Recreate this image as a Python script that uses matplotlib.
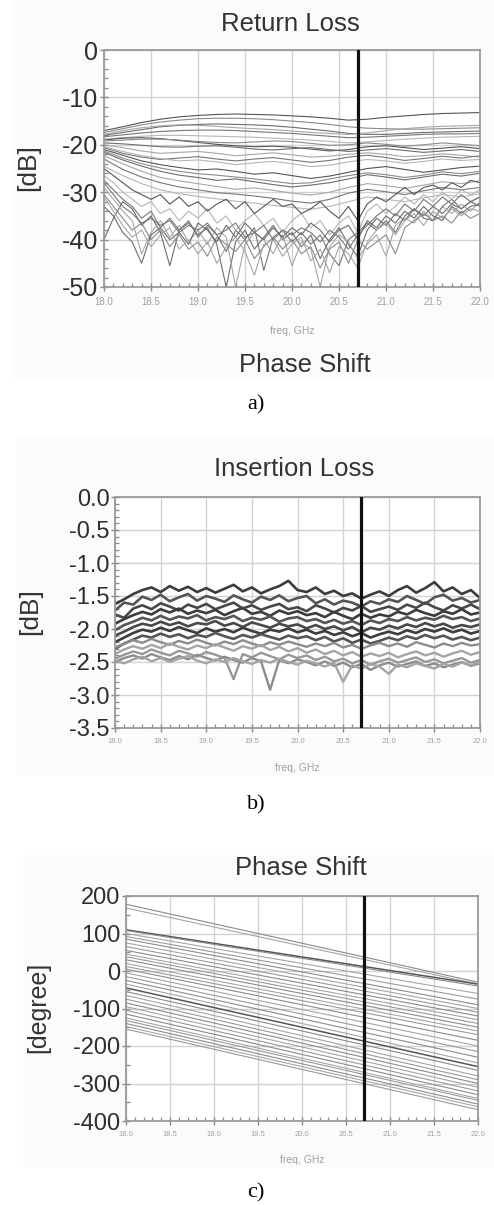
import numpy as np
import matplotlib
matplotlib.use('Agg')
import matplotlib.pyplot as plt
from matplotlib.ticker import MultipleLocator, FormatStrFormatter
from matplotlib.patches import Rectangle

plt.rcParams['font.family'] = ['Liberation Sans', 'DejaVu Sans']
plt.rcParams['axes.unicode_minus'] = False

# ---------------- data ----------------
MARKER_F = 20.7

# Return loss, smooth upper traces on a 0.2 GHz grid
rl_freq_coarse = [18.0, 18.2, 18.4, 18.6, 18.8, 19.0, 19.2, 19.4, 19.6, 19.8, 20.0,
                  20.2, 20.4, 20.6, 20.8, 21.0, 21.2, 21.4, 21.6, 21.8, 22.0]
rl_upper = [
    [-17.0, -16.2, -15.3, -14.6, -14.1, -13.8, -13.6, -13.5, -13.6, -13.7, -13.9, -14.1, -14.4, -14.8, -14.6, -14.2, -13.9, -13.6, -13.4, -13.3, -13.2],
    [-17.4, -16.6, -15.8, -15.2, -14.8, -14.5, -14.4, -14.4, -14.5, -14.7, -15.0, -15.3, -15.7, -16.2, -16.5, -16.6, -16.7, -16.7, -16.6, -16.5, -16.4],
    [-18.0, -17.4, -16.8, -16.2, -15.9, -15.7, -15.6, -15.7, -15.8, -16.0, -16.3, -16.7, -17.1, -17.6, -17.8, -17.8, -17.6, -17.4, -17.3, -17.2, -17.1],
    [-17.8, -17.0, -16.4, -16.0, -15.8, -15.9, -16.1, -16.4, -16.6, -16.8, -17.1, -17.4, -17.6, -17.8, -17.5, -17.0, -16.6, -16.3, -16.1, -16.0, -15.9],
    [-18.3, -17.9, -17.5, -17.2, -17.0, -16.9, -16.9, -17.0, -17.2, -17.4, -17.6, -17.9, -18.2, -18.5, -18.4, -18.2, -18.0, -17.8, -17.7, -17.7, -17.6],
    [-18.8, -18.5, -18.2, -18.0, -18.0, -18.1, -18.2, -18.3, -18.4, -18.6, -18.8, -19.0, -19.3, -19.6, -19.4, -19.1, -18.8, -18.6, -18.4, -18.3, -18.2],
    [-19.0, -18.6, -18.5, -18.7, -19.1, -19.5, -19.9, -20.2, -20.4, -20.3, -20.5, -20.9, -21.3, -21.0, -20.4, -20.2, -20.6, -21.0, -20.7, -20.4, -20.8],
    [-19.2, -19.0, -18.8, -18.8, -19.0, -19.3, -19.5, -19.6, -19.4, -19.2, -19.3, -19.7, -20.1, -20.0, -19.6, -19.9, -20.3, -20.0, -19.6, -19.9, -20.2],
    [-19.6, -19.8, -20.1, -20.4, -20.5, -20.3, -20.2, -20.5, -20.9, -21.1, -20.8, -20.6, -21.0, -21.4, -21.1, -20.8, -21.2, -21.6, -21.3, -21.0, -21.4],
    [-20.0, -20.6, -21.3, -21.8, -21.6, -21.4, -21.8, -22.3, -22.0, -21.7, -22.1, -22.6, -22.4, -22.0, -21.7, -22.0, -22.5, -22.3, -21.9, -22.2, -22.6],
    [-20.6, -21.8, -22.6, -23.1, -22.8, -22.5, -23.0, -23.4, -23.0, -22.7, -23.2, -23.7, -23.3, -22.6, -22.2, -22.7, -23.3, -22.9, -22.4, -22.8, -22.3],
    [-20.4, -21.4, -22.3, -22.9, -23.4, -23.2, -23.6, -24.2, -23.8, -23.5, -24.0, -24.6, -24.3, -23.6, -23.1, -23.4, -23.9, -23.5, -23.0, -23.3, -23.1],
    [-21.0, -22.2, -23.4, -24.2, -24.8, -25.3, -25.1, -25.6, -26.2, -25.9, -26.5, -27.1, -26.6, -25.8, -25.0, -24.6, -25.2, -25.8, -25.3, -24.8, -24.5],
    [-21.3, -22.8, -24.0, -24.9, -25.6, -26.1, -26.4, -26.8, -27.2, -27.7, -28.2, -28.0, -27.2, -26.5, -25.9, -26.3, -26.9, -26.4, -25.7, -26.1, -25.6],
    [-21.6, -23.2, -24.5, -25.6, -26.4, -26.9, -27.5, -27.2, -27.8, -28.4, -28.9, -28.5, -28.0, -27.2, -26.3, -26.8, -27.4, -26.8, -26.2, -26.6, -26.0],
    [-22.3, -24.0, -25.6, -26.9, -27.6, -28.2, -28.8, -29.4, -29.1, -29.6, -30.2, -30.6, -30.0, -29.0, -28.2, -28.6, -29.2, -28.5, -27.8, -28.2, -27.6],
    [-23.0, -25.2, -26.8, -28.0, -28.9, -29.5, -30.1, -30.4, -30.8, -31.3, -31.9, -32.3, -31.5, -30.2, -29.4, -29.9, -30.5, -29.7, -29.0, -29.5, -29.0],
    [-24.5, -26.5, -28.2, -29.5, -30.3, -30.9, -31.4, -31.9, -32.3, -32.8, -33.2, -33.6, -33.0, -32.0, -31.0, -31.5, -32.0, -31.2, -30.5, -31.0, -30.3],
]

# Return loss, noisy lower traces on a 0.1 GHz grid
rl_freq_fine = [18.0, 18.1, 18.2, 18.3, 18.4, 18.5, 18.6, 18.7, 18.8, 18.9,
                19.0, 19.1, 19.2, 19.3, 19.4, 19.5, 19.6, 19.7, 19.8, 19.9,
                20.0, 20.1, 20.2, 20.3, 20.4, 20.5, 20.6, 20.7, 20.8, 20.9,
                21.0, 21.1, 21.2, 21.3, 21.4, 21.5, 21.6, 21.7, 21.8, 21.9, 22.0]
rl_lower = [
    [-40.0, -35.5, -32.0, -33.5, -37.0, -35.0, -38.5, -45.5, -38.0, -36.5,
     -39.0, -37.5, -41.0, -50.0, -40.5, -38.0, -42.0, -39.5, -37.0, -40.0,
     -38.5, -41.5, -39.0, -44.0, -40.0, -37.5, -41.0, -43.5, -38.0, -35.5,
     -37.0, -34.5, -36.0, -33.5, -35.0, -33.0, -34.5, -32.5, -33.5, -32.0, -33.0],
    [-29.0, -31.5, -34.0, -36.0, -43.0, -38.5, -36.0, -39.5, -37.0, -40.5,
     -38.0, -41.0, -37.5, -39.5, -50.0, -41.0, -38.5, -40.0, -43.0, -39.0,
     -45.5, -40.5, -42.0, -50.0, -41.5, -39.0, -40.5, -44.0, -41.0, -39.0,
     -43.5, -37.0, -35.5, -36.5, -34.0, -36.0, -33.0, -34.5, -32.5, -34.0, -32.0],
    [-27.5, -29.5, -31.5, -33.0, -35.5, -34.0, -37.5, -35.5, -38.0, -36.0,
     -39.5, -37.0, -39.0, -42.5, -38.0, -40.0, -37.5, -46.5, -39.5, -38.0,
     -40.5, -38.5, -41.0, -39.0, -43.0, -45.5, -40.0, -38.5, -36.5, -38.0,
     -36.0, -38.5, -35.0, -33.5, -35.5, -36.0, -33.0, -31.5, -33.5, -32.0, -31.0],
    [-26.5, -28.0, -30.0, -31.5, -33.0, -32.0, -34.5, -33.5, -36.0, -34.0,
     -35.5, -33.5, -36.5, -35.0, -38.0, -36.0, -34.5, -37.0, -35.5, -38.5,
     -36.0, -34.5, -37.5, -36.0, -39.0, -36.5, -35.0, -38.5, -34.0, -32.5,
     -34.5, -33.0, -31.0, -32.5, -30.5, -32.0, -30.0, -31.5, -29.5, -30.5, -29.5],
    [-25.0, -26.5, -28.0, -29.5, -30.5, -31.5, -30.5, -32.5, -31.0, -33.0,
     -32.0, -34.0, -32.5, -31.5, -33.5, -32.0, -34.5, -33.0, -31.5, -33.0,
     -32.5, -34.5, -33.5, -32.0, -34.0, -35.5, -33.0, -36.0, -32.5, -31.0,
     -32.0, -30.5, -29.0, -30.5, -29.0, -28.5, -29.5, -28.0, -29.0, -27.5, -28.0],
    [-30.5, -33.0, -35.5, -38.0, -36.5, -40.0, -38.0, -41.5, -39.0, -42.0,
     -40.5, -43.5, -39.5, -41.0, -42.5, -40.0, -44.0, -41.5, -39.5, -42.0,
     -40.0, -43.0, -41.5, -46.0, -42.0, -40.5, -45.0, -40.0, -42.0, -40.5,
     -39.0, -43.0, -37.5, -36.0, -34.5, -36.0, -35.0, -36.5, -34.0, -35.5, -34.5],
    [-33.0, -35.0, -38.5, -40.5, -45.0, -39.0, -37.5, -40.0, -38.5, -41.0,
     -36.5, -38.0, -40.5, -37.0, -39.5, -36.5, -38.5, -40.0, -37.5, -39.5,
     -37.5, -39.0, -36.5, -38.0, -40.5, -38.0, -37.0, -40.0, -36.0, -37.5,
     -35.0, -36.5, -34.0, -35.5, -33.0, -35.0, -36.0, -33.0, -34.5, -33.0, -32.5],
    [-31.0, -34.0, -37.0, -39.5, -38.0, -41.5, -39.0, -37.5, -42.0, -40.0,
     -43.0, -40.5, -45.0, -41.5, -39.5, -42.5, -47.5, -41.0, -40.0, -43.5,
     -41.0, -39.5, -44.5, -42.0, -47.0, -41.5, -43.0, -46.0, -40.5, -38.0,
     -36.5, -39.0, -36.0, -34.5, -37.0, -34.0, -35.5, -33.5, -35.0, -33.5, -34.0],
    [-28.0, -30.5, -33.0, -34.5, -36.5, -35.5, -37.0, -36.0, -38.5, -37.0,
     -38.0, -36.5, -39.0, -38.0, -36.5, -39.5, -38.5, -37.0, -40.0, -38.0,
     -39.0, -37.5, -38.5, -40.5, -38.0, -39.5, -42.0, -39.0, -37.0, -35.0,
     -33.5, -35.0, -32.5, -34.0, -31.5, -33.0, -31.0, -32.5, -30.5, -32.0, -31.0],
]

# Insertion loss on a 0.1 GHz grid
il_freq = rl_freq_fine
il_dark = [
    [-1.62, -1.55, -1.47, -1.41, -1.37, -1.44, -1.35, -1.42, -1.36, -1.44, -1.38, -1.45, -1.39, -1.33, -1.43, -1.37, -1.46, -1.40, -1.35, -1.27,
     -1.41, -1.44, -1.37, -1.47, -1.42, -1.50, -1.46, -1.54, -1.48, -1.43, -1.50, -1.41, -1.35, -1.45, -1.38, -1.29, -1.43, -1.37, -1.47, -1.41, -1.53],
    [-1.72, -1.60, -1.63, -1.51, -1.56, -1.48, -1.58, -1.52, -1.47, -1.57, -1.50, -1.54, -1.59, -1.49, -1.55, -1.60, -1.51, -1.56, -1.49, -1.58,
     -1.53, -1.50, -1.61, -1.55, -1.63, -1.57, -1.60, -1.66, -1.58, -1.62, -1.55, -1.59, -1.50, -1.56, -1.62, -1.52, -1.48, -1.57, -1.53, -1.60, -1.56],
    [-1.78, -1.83, -1.69, -1.64, -1.70, -1.61, -1.66, -1.72, -1.63, -1.68, -1.62, -1.70, -1.65, -1.60, -1.69, -1.64, -1.71, -1.66, -1.62, -1.70,
     -1.67, -1.73, -1.64, -1.69, -1.75, -1.68, -1.72, -1.65, -1.74, -1.70, -1.66, -1.71, -1.63, -1.68, -1.60, -1.67, -1.72, -1.64, -1.69, -1.63, -1.70],
    [-1.92, -1.85, -1.79, -1.74, -1.78, -1.70, -1.75, -1.69, -1.77, -1.72, -1.76, -1.71, -1.79, -1.73, -1.68, -1.77, -1.74, -1.80, -1.72, -1.77,
     -1.73, -1.79, -1.76, -1.82, -1.74, -1.80, -1.85, -1.77, -1.83, -1.78, -1.81, -1.74, -1.78, -1.71, -1.76, -1.80, -1.73, -1.77, -1.70, -1.78, -1.75],
    [-2.02, -1.94, -1.89, -1.83, -1.87, -1.80, -1.86, -1.81, -1.84, -1.79, -1.87, -1.82, -1.85, -1.80, -1.88, -1.83, -1.86, -1.81, -1.89, -1.84,
     -1.82, -1.88, -1.85, -1.91, -1.86, -1.92, -1.88, -1.94, -1.87, -1.91, -1.85, -1.88, -1.82, -1.87, -1.83, -1.86, -1.80, -1.85, -1.82, -1.88, -1.84],
    [-2.10, -2.04, -1.97, -1.92, -1.95, -1.89, -1.94, -1.90, -1.96, -1.91, -1.93, -1.88, -1.95, -1.91, -1.97, -1.90, -1.94, -1.98, -1.92, -1.96,
     -1.93, -1.99, -1.94, -2.00, -1.96, -2.02, -1.97, -2.05, -1.98, -2.01, -1.95, -1.99, -1.93, -1.97, -1.91, -1.96, -1.92, -1.98, -1.94, -1.97, -1.93],
    [-2.20, -2.13, -2.06, -2.01, -2.04, -1.98, -2.03, -1.97, -2.02, -2.06, -1.99, -2.04, -2.00, -2.05, -1.98, -2.03, -2.07, -2.01, -2.04, -1.99,
     -2.05, -2.01, -2.07, -2.03, -2.09, -2.05, -2.11, -2.06, -2.13, -2.08, -2.04, -2.08, -2.02, -2.06, -2.00, -2.04, -1.99, -2.05, -2.01, -2.07, -2.03],
    [-2.30, -2.22, -2.16, -2.10, -2.13, -2.07, -2.12, -2.08, -2.14, -2.09, -2.12, -2.06, -2.11, -2.15, -2.09, -2.13, -2.08, -2.12, -2.16, -2.10,
     -2.14, -2.11, -2.17, -2.12, -2.19, -2.14, -2.21, -2.16, -2.22, -2.18, -2.13, -2.17, -2.11, -2.15, -2.09, -2.14, -2.10, -2.16, -2.12, -2.17, -2.13],
]
il_light = [
    [-2.28, -2.22, -2.17, -2.21, -2.15, -2.20, -2.24, -2.18, -2.22, -2.16, -2.21, -2.25, -2.19, -2.23, -2.17, -2.22, -2.26, -2.20, -2.24, -2.19,
     -2.23, -2.27, -2.22, -2.26, -2.21, -2.28, -2.24, -2.30, -2.25, -2.21, -2.26, -2.22, -2.27, -2.20, -2.24, -2.28, -2.22, -2.26, -2.21, -2.25, -2.23],
    [-2.38, -2.31, -2.26, -2.30, -2.24, -2.29, -2.22, -2.27, -2.31, -2.25, -2.29, -2.23, -2.28, -2.33, -2.26, -2.30, -2.24, -2.32, -2.27, -2.34,
     -2.29, -2.36, -2.31, -2.38, -2.33, -2.40, -2.35, -2.42, -2.37, -2.41, -2.36, -2.43, -2.38, -2.34, -2.40, -2.36, -2.42, -2.37, -2.33, -2.39, -2.35],
    [-2.45, -2.39, -2.34, -2.38, -2.31, -2.36, -2.40, -2.33, -2.37, -2.42, -2.35, -2.39, -2.44, -2.76, -2.38, -2.43, -2.36, -2.41, -2.46, -2.39,
     -2.44, -2.40, -2.47, -2.42, -2.49, -2.45, -2.52, -2.47, -2.54, -2.49, -2.45, -2.51, -2.47, -2.43, -2.50, -2.46, -2.52, -2.48, -2.44, -2.51, -2.47],
    [-2.50, -2.44, -2.40, -2.45, -2.38, -2.43, -2.47, -2.41, -2.46, -2.39, -2.44, -2.48, -2.42, -2.47, -2.51, -2.44, -2.49, -2.92, -2.47, -2.52,
     -2.46, -2.50, -2.55, -2.49, -2.56, -2.51, -2.58, -2.53, -2.62, -2.55, -2.51, -2.57, -2.53, -2.49, -2.56, -2.52, -2.58, -2.54, -2.50, -2.56, -2.52],
    [-2.48, -2.52, -2.46, -2.42, -2.49, -2.44, -2.50, -2.45, -2.41, -2.48, -2.52, -2.46, -2.50, -2.44, -2.49, -2.53, -2.47, -2.51, -2.45, -2.50,
     -2.54, -2.48, -2.52, -2.57, -2.51, -2.80, -2.55, -2.60, -2.53, -2.57, -2.68, -2.54, -2.58, -2.52, -2.56, -2.60, -2.53, -2.57, -2.51, -2.55, -2.50],
]

# Phase shift: straight lines, value at 18 GHz and at 22 GHz
ps_freq = [18.0, 22.0]
ps_start = [178, 168, 110, 108, 100, 92, 85, 75, 65, 55, 45, 38, 30, 20, 12, 5,
            -5, -15, -25, -35, -45, -55, -65, -75, -85, -95, -105, -115, -125,
            -132, -140, -148, -155]
ps_end = [-30, -35, -35, -40, -60, -75, -90, -100, -110, -120, -130, -140, -150,
          -160, -170, -185, -200, -215, -230, -245, -255, -265, -280, -290, -300,
          -310, -320, -330, -340, -345, -355, -362, -370]

# ---------------- figure ----------------
W, H = 494, 1205
fig = plt.figure(figsize=(W / 100, H / 100), dpi=100)
fig.patch.set_facecolor('white')

def px_box(x0, y0, x1, y1):
    return [x0 / W, 1 - y1 / H, (x1 - x0) / W, (y1 - y0) / H]

# faint screenshot backgrounds
for (x0, y0, x1, y1) in [(12, 0, 494, 379), (17, 437, 494, 775), (23, 855, 494, 1167)]:
    b = px_box(x0, y0, x1, y1)
    fig.patches.append(Rectangle((b[0], b[1]), b[2], b[3], transform=fig.transFigure,
                                 facecolor='#fbfbfb', edgecolor='none', zorder=-10))

rl_greys = ['#555555', '#8a8a8a', '#6c6c6c', '#a6a6a6', '#777777', '#b5b5b5']

def style_axes(ax, ytick_size, xtick_size, ymin_step):
    ax.set_xlim(18.0, 22.0)
    ax.xaxis.set_major_locator(MultipleLocator(0.5))
    ax.xaxis.set_minor_locator(MultipleLocator(0.1))
    ax.yaxis.set_minor_locator(MultipleLocator(ymin_step))
    ax.grid(True, which='major', color='#d2d2d2', lw=1.0)
    ax.set_axisbelow(True)
    for s in ax.spines.values():
        s.set_color('#9a9a9a')
        s.set_linewidth(1.3)
    ax.tick_params(which='major', direction='inout', length=6, width=1.0, color='#8a8a8a')
    ax.tick_params(which='minor', direction='in', length=3, width=0.9, color='#8a8a8a')
    ax.tick_params(axis='y', labelsize=ytick_size, labelcolor='#2e2e2e', pad=1)
    ax.tick_params(axis='x', labelsize=xtick_size, labelcolor='#a0a0a0', pad=4)
    ax.xaxis.set_major_formatter(FormatStrFormatter('%.1f'))
    ax.axvline(MARKER_F, color='#111111', lw=2.3, zorder=5)

# ---- a) Return Loss ----
ax1 = fig.add_axes(px_box(104, 50, 480, 287))
for i, tr in enumerate(rl_upper):
    ax1.plot(rl_freq_coarse, tr, color=rl_greys[i % len(rl_greys)], lw=0.8)
for i, tr in enumerate(rl_lower):
    ax1.plot(rl_freq_fine, tr, color=rl_greys[(i + 2) % len(rl_greys)], lw=0.8)
ax1.set_ylim(-50, 0)
ax1.set_yticks([0, -10, -20, -30, -40, -50])
style_axes(ax1, 18, 7, 2)

# ---- b) Insertion Loss ----
ax2 = fig.add_axes(px_box(115, 497, 480, 728))
for i, tr in enumerate(il_dark):
    ax2.plot(il_freq, tr, color=['#3c3c3c', '#555555', '#484848'][i % 3], lw=1.9)
for i, tr in enumerate(il_light):
    ax2.plot(il_freq, tr, color=['#8c8c8c', '#a4a4a4', '#979797'][i % 3], lw=1.7)
ax2.set_ylim(-3.5, 0.0)
ax2.set_yticks([0.0, -0.5, -1.0, -1.5, -2.0, -2.5, -3.0, -3.5])
ax2.yaxis.set_major_formatter(FormatStrFormatter('%.1f'))
style_axes(ax2, 17, 5.5, 0.1)

# ---- c) Phase Shift ----
ax3 = fig.add_axes(px_box(126, 896, 478, 1121))
for i, (s, e) in enumerate(zip(ps_start, ps_end)):
    c = '#555555' if i in (2, 20) else ['#8a8a8a', '#a5a5a5', '#999999'][i % 3]
    ax3.plot(ps_freq, [s, e], color=c, lw=1.1 if i in (2, 20) else 0.8)
ax3.set_ylim(-400, 200)
ax3.set_yticks([200, 100, 0, -100, -200, -300, -400])
style_axes(ax3, 17, 5.5, 50)

# ---------------- texts ----------------
def ftext(x, y, s, **kw):
    fig.text(x / W, 1 - y / H, s, ha='center', va='center', **kw)

ftext(290, 24, 'Return Loss', fontsize=18.5, color='#333333')
ftext(305, 365, 'Phase Shift', fontsize=18.5, color='#333333')
ftext(294, 469, 'Insertion Loss', fontsize=18.5, color='#333333')
ftext(301, 868, 'Phase Shift', fontsize=18.5, color='#333333')

ftext(292, 331, 'freq, GHz', fontsize=7.5, color='#a0a0a0')
ftext(297, 768, 'freq, GHz', fontsize=7.5, color='#a0a0a0')
ftext(302, 1160, 'freq, GHz', fontsize=7.5, color='#a0a0a0')

ftext(28, 168, '[dB]', fontsize=19, color='#333333', rotation=90)
ftext(30, 612, '[dB]', fontsize=19, color='#333333', rotation=90)
ftext(38, 1007, '[degree]', fontsize=18, color='#333333', rotation=90)

for lab, yy in [('a)', 405), ('b)', 805), ('c)', 1193)]:
    ftext(256, yy, lab, fontsize=16, color='black', family='Liberation Serif')

fig.savefig('out.png', dpi=100)
